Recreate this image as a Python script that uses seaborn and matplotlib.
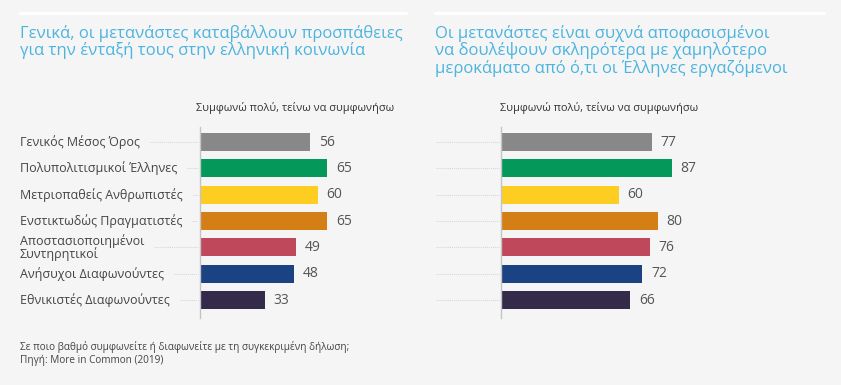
import matplotlib
matplotlib.use("Agg")
import matplotlib.pyplot as plt
import seaborn as sns
import pandas as pd
from matplotlib.lines import Line2D

categories = ["Γενικός Μέσος Όρος", "Πολυπολιτισμικοί Έλληνες", "Μετριοπαθείς Ανθρωπιστές",
              "Ενστικτωδώς Πραγματιστές", "Αποστασιοποιημένοι\nΣυντηρητικοί",
              "Ανήσυχοι Διαφωνούντες", "Εθνικιστές Διαφωνούντες"]
values_left = [56, 65, 60, 65, 49, 48, 33]
values_right = [77, 87, 60, 80, 76, 72, 66]
colors = ["#888888", "#04995a", "#fecd22", "#d47f16", "#bf485a", "#1b4282", "#342b4b"]

title_left = "Γενικά, οι μετανάστες καταβάλλουν προσπάθειες\nγια την ένταξή τους στην ελληνική κοινωνία"
title_right = "Οι μετανάστες είναι συχνά αποφασισμένοι\nνα δουλέψουν σκληρότερα με χαμηλότερο\nμεροκάματο από ό,τι οι Έλληνες εργαζόμενοι"
subheader = "Συμφωνώ πολύ, τείνω να συμφωνήσω"
footnote = "Σε ποιο βαθμό συμφωνείτε ή διαφωνείτε με τη συγκεκριμένη δήλωση;\nΠηγή: More in Common (2019)"

sns.set_theme(style="white")
plt.rcParams['font.family'] = ['Open Sans', 'DejaVu Sans']

BG = "#f5f5f5"
W, H = 841, 385
fig = plt.figure(figsize=(W / 100, H / 100), dpi=100, facecolor=BG)

def px(x, y):
    return x / W, 1 - y / H

palette = dict(zip(categories, colors))
axes = []
for left_px, vals in [(200, values_left), (501, values_right)]:
    ax = fig.add_axes([left_px / W, 1 - 318 / H, 196 / W, 191 / H])
    ax.set_facecolor(BG)
    df = pd.DataFrame({"cat": categories, "val": vals})
    sns.barplot(data=df, x="val", y="cat", hue="cat", palette=palette, legend=False,
                orient="h", width=0.68, ax=ax, saturation=1, edgecolor="none")
    ax.set_xlim(0, 100)
    ax.set_ylim(6.68, -0.57)
    for s in ["top", "right", "bottom"]:
        ax.spines[s].set_visible(False)
    ax.spines["left"].set_color("#c4c4c4")
    ax.spines["left"].set_linewidth(1.0)
    ax.set_xticks([])
    ax.set_yticks([])
    ax.set_xlabel("")
    ax.set_ylabel("")
    for i, v in enumerate(vals):
        ax.text(v + 4.5, i, f"{v}", va="center", ha="left", fontsize=10, color="#555555")
    axes.append(ax)

# titles
fig.text(*px(20, 25), title_left, ha="left", va="top", fontsize=12, color="#4cb4df", linespacing=1.03)
fig.text(*px(435, 25), title_right, ha="left", va="top", fontsize=12, color="#4cb4df", linespacing=1.03)

# top white lines
fig.add_artist(Line2D([20 / W, 406 / W], [1 - 12.5 / H] * 2, color="white", lw=2.2))
fig.add_artist(Line2D([435 / W, 824 / W], [1 - 12.5 / H] * 2, color="white", lw=2.2))

# subheaders
fig.text(*px(196, 108), subheader, ha="left", va="center", fontsize=7.9, color="#333333")
fig.text(*px(500, 108), subheader, ha="left", va="center", fontsize=7.9, color="#333333")

# category labels and leader lines
fig.canvas.draw()
renderer = fig.canvas.get_renderer()
ax0 = axes[0]
for i, cat in enumerate(categories):
    ydisp = ax0.transData.transform((0, i))[1]
    yfig = ydisp / H
    t = fig.text(20 / W, yfig, cat, ha="left", va="center", fontsize=9, color="#444444", linespacing=0.95)
    bb = t.get_window_extent(renderer)
    x0 = (bb.x1 + 10) / W
    fig.add_artist(Line2D([x0, 198 / W], [yfig, yfig], color="#d4d4d4", lw=0.7, ls=(0, (1, 1))))
    fig.add_artist(Line2D([436 / W, 499 / W], [yfig, yfig], color="#d4d4d4", lw=0.7, ls=(0, (1, 1))))

fig.text(*px(20, 341), footnote, ha="left", va="top", fontsize=7.2, color="#444444", linespacing=1.2)

fig.savefig("out.png", dpi=100, facecolor=BG)
